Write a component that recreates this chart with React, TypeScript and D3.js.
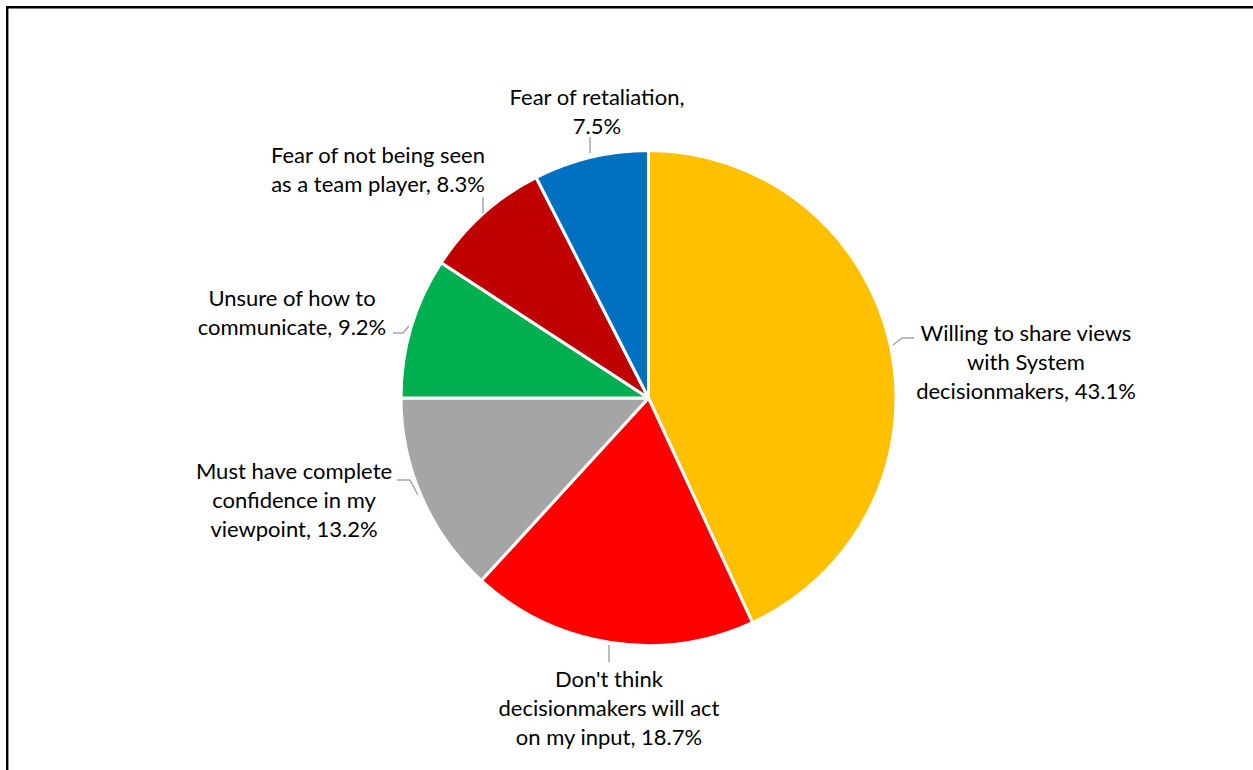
import React from "react";
import * as d3 from "d3";

const categories = [
  "Willing to share views with System decisionmakers",
  "Don't think decisionmakers will act on my input",
  "Must have complete confidence in my viewpoint",
  "Unsure of how to communicate",
  "Fear of not being seen as a team player",
  "Fear of retaliation",
];
const values = [43.1, 18.7, 13.2, 9.2, 8.3, 7.5];
const colors = ["#FFC000", "#FF0000", "#A5A5A5", "#00B050", "#C00000", "#0070C0"];
const labelLines = [
  ["Willing to share views", "with System", "decisionmakers, 43.1%"],
  ["Don't think", "decisionmakers will act", "on my input, 18.7%"],
  ["Must have complete", "confidence in my", "viewpoint, 13.2%"],
  ["Unsure of how to", "communicate, 9.2%"],
  ["Fear of not being seen", "as a team player, 8.3%"],
  ["Fear of retaliation,", "7.5%"],
];

// layout: label block centre (x, first line centre y) and leader polyline
const labelLayout = [
  { x: 1026, y: 333, leader: [[893, 345], [902, 338], [914, 338]] },
  { x: 609, y: 679, leader: [[609, 645], [609, 662]] },
  { x: 294, y: 471, leader: [[418, 495], [410, 480], [397, 480]] },
  { x: 292, y: 298, leader: [[409, 326], [403, 333], [393, 333]] },
  { x: 378, y: 155, leader: [[483, 213], [483, 197]] },
  { x: 597, y: 97, leader: [[590, 153], [590, 137]] },
];

const W = 1253;
const H = 770;
const cx = 648.5;
const cy = 398;
const R = 247.5;
const lineH = 29.3;

export default function App() {
  const pie = d3.pie<number>().sort(null).value((d) => d)(values);
  const arc = d3.arc<d3.PieArcDatum<number>>().innerRadius(0).outerRadius(R);
  const line = d3.line();
  return (
    <svg
      width={W}
      height={H}
      style={{ position: "fixed", left: 0, top: 0, display: "block", background: "#fff" }}
      fontFamily="Lato, 'Open Sans', sans-serif"
    >
      <rect x={0} y={0} width={W} height={H} fill="#fff" />
      <path d={`M7.2,${H + 10} V7.2 H${W + 10}`} fill="none" stroke="#000" strokeWidth={2.4} />
      <g transform={`translate(${cx},${cy})`}>
        {pie.map((p, i) => (
          <path key={categories[i]} d={arc(p) || ""} fill={colors[i]} stroke="#fff" strokeWidth={3} strokeLinejoin="round" />
        ))}
      </g>
      {labelLayout.map((l, i) => (
        <g key={i}>
          <path d={line(l.leader as [number, number][]) || ""} fill="none" stroke="#A6A6A6" strokeWidth={1.5} />
          <text textAnchor="middle" fontSize={22} fill="#000">
            {labelLines[i].map((t, j) => (
              <tspan key={j} x={l.x} y={l.y + j * lineH} dy="0.35em">
                {t}
              </tspan>
            ))}
          </text>
        </g>
      ))}
    </svg>
  );
}
